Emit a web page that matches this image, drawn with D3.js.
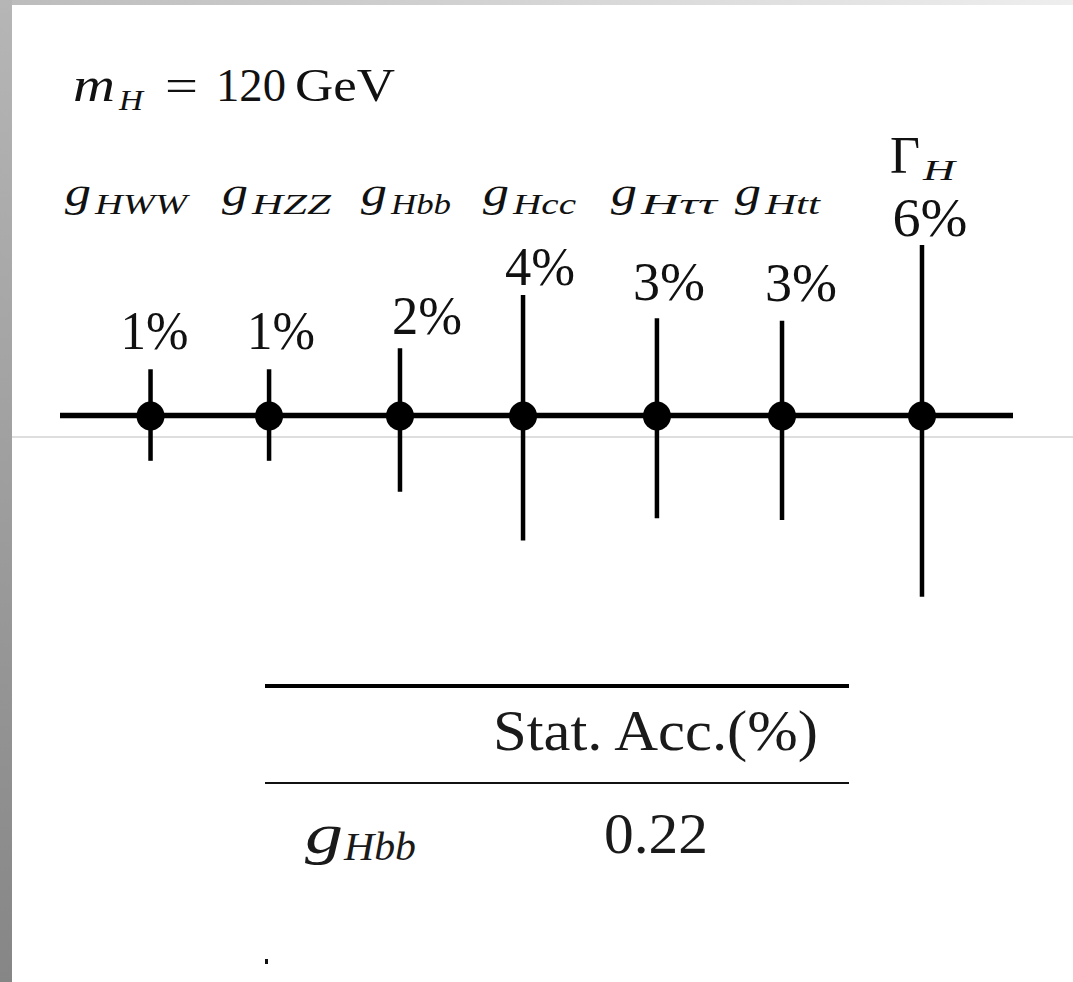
<!DOCTYPE html>
<html>
<head>
<meta charset="utf-8">
<script src="https://cdn.jsdelivr.net/npm/d3@7"></script>
<style>
  html, body { margin: 0; padding: 0; background: #fff; }
  svg { display: block; }
</style>
</head>
<body>
<script>
// ---------------- data ----------------
const couplingSubs   = ["HWW", "HZZ", "Hbb", "Hcc", "H\u03C4\u03C4", "Htt", "H"]; // last one is Γ_H
const couplingMain   = ["g", "g", "g", "g", "g", "g", "\u0393"];
const axisPositions  = [0.76, 1.755, 2.854, 3.887, 5.011, 6.061, 7.236]; // position along the axis (axis units)
const accuracyLabels = ["1%", "1%", "2%", "4%", "3%", "3%", "6%"];
const errUp          = [2.01, 2.01, 2.92, 5.24, 4.23, 4.12, 7.41];
const errDown        = [1.97, 1.97, 3.31, 5.44, 4.47, 4.54, 7.88];
const massLabelParts = ["m", "H", "=", "120", "GeV"];
const tableHeader    = ["", "Stat. Acc.(%)"];
const tableRowNames  = [["g", "Hbb"]];
const tableRowValues = ["0.22"];

// ---------------- layout ----------------
const FONT = "'Liberation Serif', 'Times New Roman', Times, serif";
const W = 1073, H = 982;
const svg = d3.select("body").append("svg").attr("width", W).attr("height", H)
  .attr("font-family", FONT);
const defs = svg.append("defs");

const gl = defs.append("linearGradient").attr("id", "leftStrip").attr("x1", 0).attr("y1", 0).attr("x2", 0).attr("y2", 1);
gl.append("stop").attr("offset", 0).attr("stop-color", "#b6b6b6");
gl.append("stop").attr("offset", 1).attr("stop-color", "#868686");
const gt = defs.append("linearGradient").attr("id", "topStrip").attr("x1", 0).attr("y1", 0).attr("x2", 1).attr("y2", 0);
gt.append("stop").attr("offset", 0).attr("stop-color", "#bcbcbc");
gt.append("stop").attr("offset", 1).attr("stop-color", "#eeeeee");

svg.append("rect").attr("width", W).attr("height", H).attr("fill", "#fff");
svg.append("rect").attr("x", 0).attr("y", 0).attr("width", W).attr("height", 5).attr("fill", "url(#topStrip)");
svg.append("rect").attr("x", 0).attr("y", 0).attr("width", 12).attr("height", H).attr("fill", "url(#leftStrip)");

// faint horizontal line
svg.append("line").attr("x1", 12).attr("x2", W).attr("y1", 437).attr("y2", 437)
  .attr("stroke", "#bdbdbd").attr("stroke-width", 1);

// scales
const x = d3.scaleLinear().domain([0, 8]).range([60, 1013]);
const y = d3.scaleLinear().domain([-10, 10]).range([415.5 + 230, 415.5 - 230]);

// main axis line
svg.append("line").attr("x1", x(0)).attr("x2", x(8)).attr("y1", y(0)).attr("y2", y(0))
  .attr("stroke", "#000").attr("stroke-width", 5.5);

const idx = d3.range(axisPositions.length);

// error bars
svg.selectAll("line.err").data(idx).join("line").attr("class", "err")
  .attr("x1", i => x(axisPositions[i])).attr("x2", i => x(axisPositions[i]))
  .attr("y1", i => y(errUp[i])).attr("y2", i => y(-errDown[i]))
  .attr("stroke", "#000").attr("stroke-width", 4.5);

// dots
svg.selectAll("ellipse.dot").data(idx).join("ellipse").attr("class", "dot")
  .attr("cx", i => x(axisPositions[i])).attr("cy", y(0) + 0.5)
  .attr("rx", 14).attr("ry", 14.5).attr("fill", "#000");

function txt(sel) {
  return sel.attr("font-family", FONT).attr("fill", "#111");
}

// accuracy labels
const accDx  = [4, 12, 27, 17, 12, 19, 8];
const accGap = [20, 20, 14, 10, 18, 20, 9];
const accW   = [68, 68, 70, 70, 72, 72, 75];
txt(svg.selectAll("text.acc").data(idx).join("text").attr("class", "acc"))
  .attr("x", i => x(axisPositions[i]) + accDx[i] - accW[i] / 2)
  .attr("y", i => y(errUp[i]) - accGap[i])
  .attr("font-size", 54)
  .attr("textLength", i => accW[i]).attr("lengthAdjust", "spacingAndGlyphs")
  .text(i => accuracyLabels[i]);

// coupling labels (g_X)
const gLeft = [65, 222, 361, 483, 611, 735];
const gMainW = 26;
const gSubW = [92, 79, 60, 63, 76, 55];
idx.slice(0, 6).forEach(i => {
  const px = x(axisPositions[i]);
  const off = gLeft[i] - px;
  txt(svg.append("text")).attr("x", px + off).attr("y", 206)
    .attr("font-size", 40).attr("font-style", "italic")
    .attr("textLength", gMainW).attr("lengthAdjust", "spacingAndGlyphs")
    .text(couplingMain[i]);
  txt(svg.append("text")).attr("x", px + off + gMainW + 4).attr("y", 214)
    .attr("font-size", 29).attr("font-style", "italic")
    .attr("textLength", gSubW[i]).attr("lengthAdjust", "spacingAndGlyphs")
    .text(couplingSubs[i]);
});
// Γ_H
{
  const i = 6, px = x(axisPositions[i]);
  txt(svg.append("text")).attr("x", px - 32).attr("y", 173)
    .attr("font-size", 52).attr("textLength", 30).attr("lengthAdjust", "spacingAndGlyphs")
    .text(couplingMain[i]);
  txt(svg.append("text")).attr("x", px + 1).attr("y", 180)
    .attr("font-size", 29).attr("font-style", "italic")
    .attr("textLength", 32).attr("lengthAdjust", "spacingAndGlyphs")
    .text(couplingSubs[i]);
}

// m_H = 120 GeV
const mh = [
  {t: massLabelParts[0], x: 73,  y: 101, fs: 48, it: true,  w: 42},
  {t: massLabelParts[1], x: 119, y: 110, fs: 30, it: true,  w: 24},
  {t: massLabelParts[2], x: 165, y: 101, fs: 47, it: false, w: 33},
  {t: massLabelParts[3], x: 216, y: 101, fs: 47, it: false, w: 70},
  {t: massLabelParts[4], x: 295, y: 101, fs: 47, it: false, w: 100}
];
txt(svg.selectAll("text.mh").data(mh).join("text").attr("class", "mh"))
  .attr("x", d => d.x).attr("y", d => d.y).attr("font-size", d => d.fs)
  .attr("font-style", d => d.it ? "italic" : "normal")
  .attr("textLength", d => d.w).attr("lengthAdjust", "spacingAndGlyphs")
  .text(d => d.t);

// ---------------- table ----------------
svg.append("line").attr("x1", 265).attr("x2", 849).attr("y1", 686).attr("y2", 686)
  .attr("stroke", "#000").attr("stroke-width", 4);
svg.append("line").attr("x1", 265).attr("x2", 849).attr("y1", 783).attr("y2", 783)
  .attr("stroke", "#111").attr("stroke-width", 2.2);
txt(svg.append("text")).attr("x", 493).attr("y", 750).attr("font-size", 58)
  .attr("textLength", 325).attr("lengthAdjust", "spacingAndGlyphs")
  .attr("fill", "#1a1a1a").text(tableHeader[1]);
tableRowNames.forEach((r, k) => {
  txt(svg.append("text")).attr("x", 305).attr("y", 853 + k * 90).attr("font-size", 58)
    .attr("font-style", "italic").attr("textLength", 38).attr("lengthAdjust", "spacingAndGlyphs")
    .attr("fill", "#1a1a1a").text(r[0]);
  txt(svg.append("text")).attr("x", 344).attr("y", 860 + k * 90).attr("font-size", 40)
    .attr("font-style", "italic").attr("textLength", 72).attr("lengthAdjust", "spacingAndGlyphs")
    .attr("fill", "#1a1a1a").text(r[1]);
  txt(svg.append("text")).attr("x", 604).attr("y", 853 + k * 90).attr("font-size", 57)
    .attr("textLength", 104).attr("lengthAdjust", "spacingAndGlyphs")
    .attr("fill", "#1a1a1a").text(tableRowValues[k]);
});
// small stray mark
svg.append("rect").attr("x", 265).attr("y", 959).attr("width", 3).attr("height", 5).attr("fill", "#111");
</script>
</body>
</html>
